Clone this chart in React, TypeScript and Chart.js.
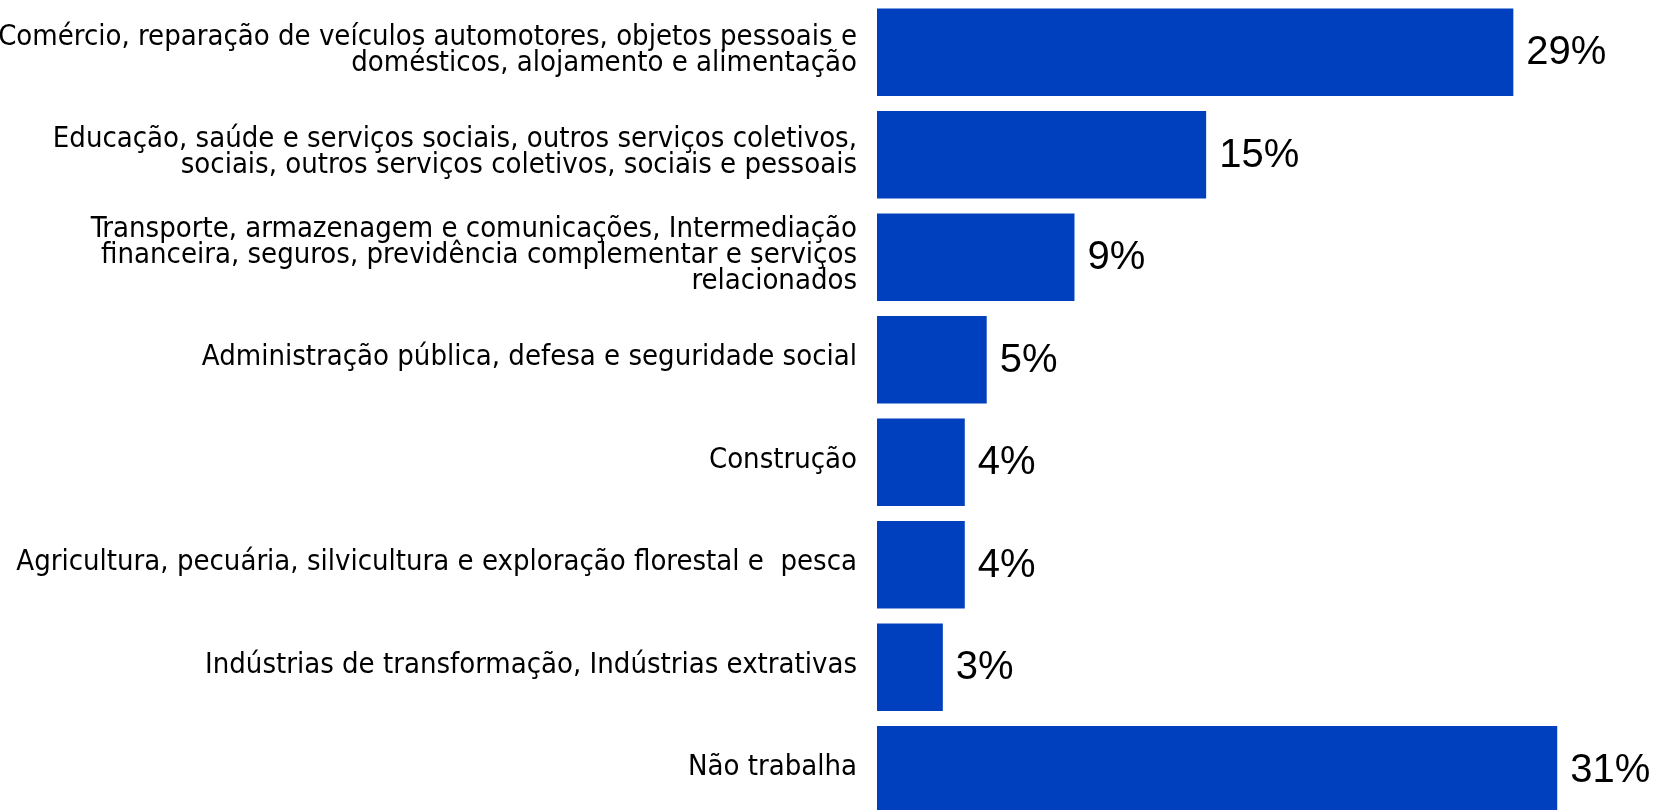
import React, { useEffect, useRef } from "react";
import { Chart, registerables } from "chart.js";

Chart.register(...registerables);

const categories: (string | string[])[] = [
  ["Comércio, reparação de veículos automotores, objetos pessoais e", "domésticos, alojamento e alimentação"],
  ["Educação, saúde e serviços sociais, outros serviços coletivos,", "sociais, outros serviços coletivos, sociais e pessoais"],
  ["Transporte, armazenagem e comunicações, Intermediação", "financeira, seguros, previdência complementar e serviços", "relacionados"],
  "Administração pública, defesa e seguridade social",
  "Construção",
  "Agricultura, pecuária, silvicultura e exploração florestal e  pesca",
  "Indústrias de transformação, Indústrias extrativas",
  "Não trabalha",
];

const values: number[] = [29, 15, 9, 5, 4, 4, 3, 31];

const BAR_COLOR = "#0040BF";

const valueLabels = {
  id: "valueLabels",
  afterDatasetsDraw(chart: any) {
    const ctx = chart.ctx;
    const meta = chart.getDatasetMeta(0);
    ctx.save();
    ctx.font = "40px 'Liberation Sans', Arial, sans-serif";
    ctx.fillStyle = "#000";
    ctx.textAlign = "left";
    ctx.textBaseline = "middle";
    meta.data.forEach((bar: any, i: number) => {
      ctx.fillText(values[i] + "%", bar.x + 13, bar.y + 1);
    });
    ctx.restore();
  },
};

export default function App() {
  const ref = useRef<HTMLCanvasElement | null>(null);
  useEffect(() => {
    if (!ref.current) return;
    const chart = new Chart(ref.current, {
      type: "bar",
      data: {
        labels: categories,
        datasets: [
          {
            data: values,
            backgroundColor: BAR_COLOR,
            borderWidth: 0,
            barPercentage: 0.855,
            categoryPercentage: 1,
          },
        ],
      },
      options: {
        indexAxis: "y",
        animation: false,
        responsive: true,
        maintainAspectRatio: false,
        layout: { padding: { top: 1, right: 17, bottom: 0, left: 0 } },
        plugins: {
          legend: { display: false },
          tooltip: { enabled: false },
        },
        scales: {
          x: { display: false, min: 0, max: 35 },
          y: {
            grid: { display: false, drawTicks: false },
            border: { display: false },
            ticks: {
              color: "#000",
              padding: 20,
              labelOffset: -2,
              autoSkip: false,
              font: { family: "'DejaVu Sans Condensed', 'DejaVu Sans', sans-serif", size: 29, lineHeight: 0.89 },
            },
            afterFit: (scale: any) => {
              scale.width = 877;
              scale.paddingTop = 0;
              scale.paddingBottom = 0;
            },
          },
        },
      },
      plugins: [valueLabels],
    });
    return () => chart.destroy();
  }, []);
  return (
    <div style={{ position: "fixed", left: 0, top: 0, width: 1662, height: 810, overflow: "hidden", background: "#fff" }}>
      <div style={{ position: "relative", width: 1662, height: 821 }}>
        <canvas ref={ref} />
      </div>
    </div>
  );
}
